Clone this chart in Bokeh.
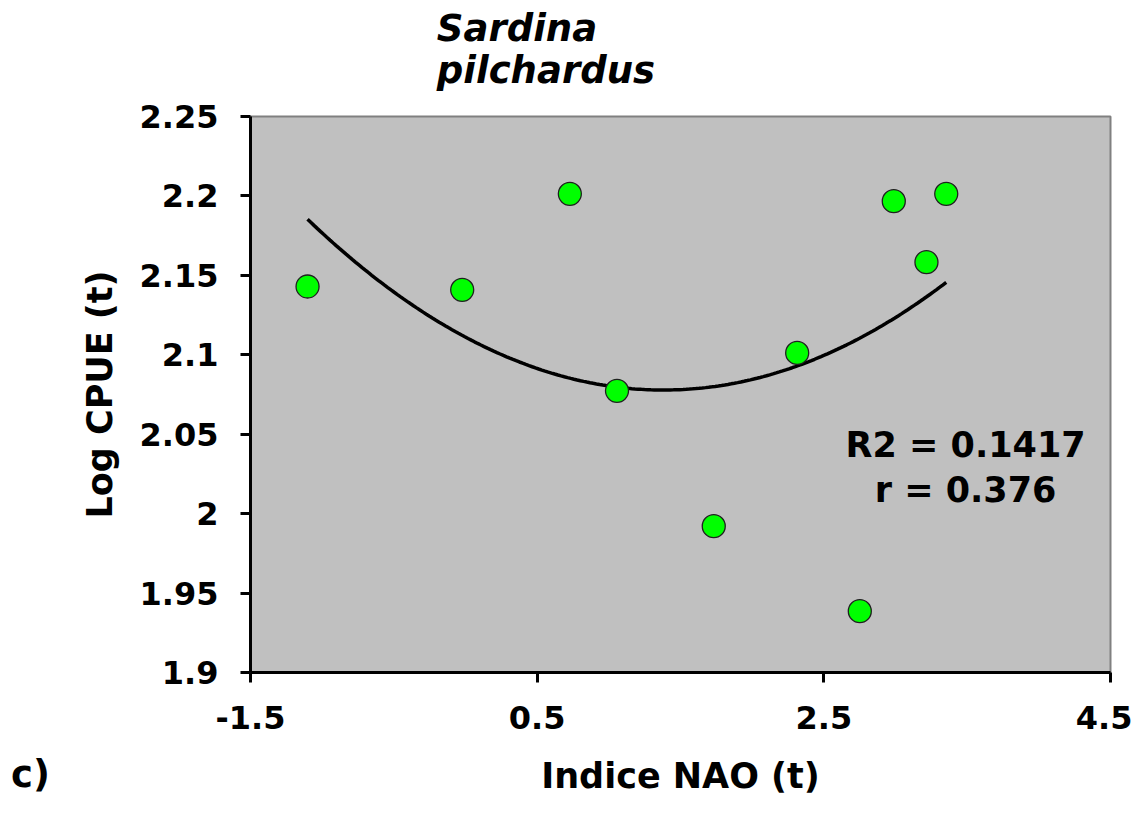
import numpy as np
from bokeh.plotting import figure
from bokeh.layouts import row, column
from bokeh.models import Label, FixedTicker, Range1d
from bokeh.embed import file_html
from bokeh.resources import INLINE

# Data
nao_index = [-1.102, -0.023, 0.728, 1.057, 1.732, 2.314, 2.751, 2.988, 3.216, 3.354]
log_cpue = [2.1430, 2.1409, 2.2013, 2.0773, 1.9921, 2.1012, 1.9386, 2.1967, 2.1583, 2.2013]

x_ticks = [-1.5, 0.5, 2.5, 4.5]
x_tick_labels = ["-1.5", "0.5", "2.5", "4.5"]
y_ticks = [1.9, 1.95, 2.0, 2.05, 2.1, 2.15, 2.2, 2.25]
y_tick_labels = ["1.9", "1.95", "2", "2.05", "2.1", "2.15", "2.2", "2.25"]

title_lines = ["Sardina", "pilchardus"]
stats_lines = ["R2 = 0.1417", "r = 0.376"]
x_label = "Indice NAO (t)"
y_label = "Log CPUE (t)"
panel_tag = "c)"

FONT = "DejaVu Sans"
W, H = 1132, 798
TAG_W = 60
TITLE_H = 94
FRAME_L, FRAME_R, FRAME_T, FRAME_B = 250, 1110, 116, 672

# ---- title strip (its frame spans the same x extent as the chart) ----
title_fig = figure(width=W, height=TITLE_H, output_backend="svg", toolbar_location=None,
                   x_range=Range1d(-1.5, 4.5), y_range=Range1d(TITLE_H, 0),
                   x_axis_location=None, y_axis_location=None,
                   min_border_left=FRAME_L, min_border_right=W - FRAME_R,
                   min_border_top=0, min_border_bottom=0)
title_fig.outline_line_color = None
title_fig.background_fill_color = "white"
title_fig.border_fill_color = "white"
title_fig.grid.visible = False
for txt, ym in zip(title_lines, [28, 70]):
    title_fig.add_layout(Label(x=-0.2, y=ym, text=txt, text_font=FONT, text_font_style="bold italic",
                               text_font_size="37px", text_color="black", text_baseline="middle"))

MAIN_H = H - TITLE_H

# ---- narrow strip on the left: its empty x axis carries the panel tag ----
tag_fig = figure(width=TAG_W, height=MAIN_H, output_backend="svg", toolbar_location=None,
                 x_range=Range1d(0, 1), y_range=Range1d(0, 1), y_axis_location=None,
                 min_border_left=0, min_border_right=0,
                 min_border_top=FRAME_T - TITLE_H, min_border_bottom=H - FRAME_B)
tag_fig.outline_line_color = None
tag_fig.background_fill_color = "white"
tag_fig.border_fill_color = "white"
tag_fig.grid.visible = False
tag_ax = tag_fig.xaxis[0]
tag_ax.ticker = FixedTicker(ticks=[])
tag_ax.axis_line_color = None
tag_ax.major_tick_line_color = None
tag_ax.minor_tick_line_color = None
tag_ax.major_tick_out = 0
tag_ax.major_tick_in = 0
tag_ax.minor_tick_out = 0
tag_ax.major_label_standoff = 0
tag_ax.axis_label = panel_tag
tag_ax.axis_label_standoff = 80
tag_ax.axis_label_text_font = FONT
tag_ax.axis_label_text_font_style = "bold"
tag_ax.axis_label_text_font_size = "37px"
tag_ax.axis_label_text_color = "black"

# ---- main chart ----
p = figure(width=W - TAG_W, height=MAIN_H, output_backend="svg", toolbar_location=None,
           x_range=Range1d(-1.5, 4.5), y_range=Range1d(1.9, 2.25),
           min_border_left=FRAME_L - TAG_W, min_border_right=W - FRAME_R,
           min_border_top=FRAME_T - TITLE_H, min_border_bottom=H - FRAME_B)
p.background_fill_color = "#C0C0C0"
p.border_fill_color = "white"
p.outline_line_color = "#808080"
p.outline_line_width = 2
p.xgrid.visible = False
p.ygrid.visible = False

for ax in (p.xaxis[0], p.yaxis[0]):
    ax.axis_line_color = "black"
    ax.axis_line_width = 3
    ax.major_tick_line_color = "black"
    ax.major_tick_line_width = 3
    ax.major_tick_out = 10
    ax.major_tick_in = 0
    ax.minor_tick_line_color = None
    ax.major_label_text_font = FONT
    ax.major_label_text_font_style = "bold"
    ax.major_label_text_font_size = "32px"
    ax.major_label_text_color = "black"
    ax.axis_label_text_font = FONT
    ax.axis_label_text_font_style = "bold"
    ax.axis_label_text_font_size = "35px"
    ax.axis_label_text_color = "black"

p.xaxis.ticker = FixedTicker(ticks=x_ticks)
p.yaxis.ticker = FixedTicker(ticks=y_ticks)
p.xaxis.major_label_overrides = {t: s for t, s in zip(x_ticks, x_tick_labels)}
p.yaxis.major_label_overrides = {t: s for t, s in zip(y_ticks, y_tick_labels)}
p.xaxis.axis_label = x_label
p.yaxis.axis_label = y_label
p.xaxis.major_label_standoff = 23
p.xaxis.axis_label_standoff = 24
p.yaxis.major_label_standoff = 22
p.yaxis.axis_label_standoff = 17

# second-order polynomial trendline fitted to the data
coef = np.polyfit(nao_index, log_cpue, 2)
xs = np.linspace(min(nao_index), max(nao_index), 200)
p.line(xs, np.polyval(coef, xs), line_color="black", line_width=3.5)

p.scatter(nao_index, log_cpue, size=23, fill_color="#00FF00", line_color="#202020", line_width=1.3)

# statistics text (inside the plot area)
p.add_layout(Label(x=3.489, y=2.0429, text=stats_lines[0], text_font=FONT, text_font_style="bold",
                   text_font_size="35px", text_color="black", text_align="center", text_baseline="middle"))
p.add_layout(Label(x=3.489, y=2.0146, text=stats_lines[1], text_font=FONT, text_font_style="bold",
                   text_font_size="35px", text_color="black", text_align="center", text_baseline="middle"))

layout = column(title_fig, row(tag_fig, p))
open("out.html", "w").write(file_html(layout, INLINE))
